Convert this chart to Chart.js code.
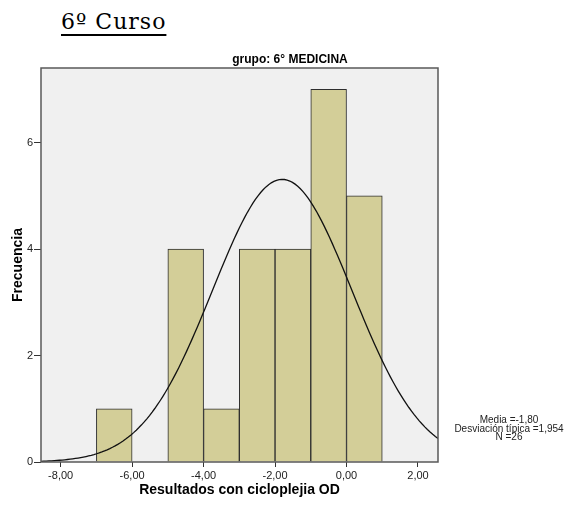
<!DOCTYPE html>
<html>
<head>
<meta charset="utf-8">
<script src="https://cdn.jsdelivr.net/npm/chart.js@4"></script>
<style>
  body { margin: 0; background: #fff; }
  #wrap { position: relative; width: 568px; height: 506px; }
  #heading {
    position: absolute; left: 61px; top: 11px; margin: 0;
    font-family: "DejaVu Serif", serif; font-weight: normal; font-size: 22px;
    line-height: 22px; letter-spacing: 1px; color: #000;
    text-decoration: underline; text-decoration-thickness: 1.5px; text-underline-offset: 5px;
  }
  canvas { position: absolute; left: 0; top: 0; }
</style>
</head>
<body>
<div id="wrap">
  <h1 id="heading">6º Curso</h1>
  <canvas id="histo" width="568" height="506"></canvas>
</div>
<script>
// Datos del histograma
const binCenters = [-6.5, -5.5, -4.5, -3.5, -2.5, -1.5, -0.5, 0.5];
const frecuencias = [1, 0, 4, 1, 4, 4, 7, 5];
const xTickValues = [-8, -6, -4, -2, 0, 2];
const xTickLabels = ['-8,00', '-6,00', '-4,00', '-2,00', '0,00', '2,00'];
const yTickValues = [0, 2, 4, 6];
const yTickLabels = ['0', '2', '4', '6'];
const statsLines = ['Media =-1,80', 'Desviación típica =1,954', 'N =26'];

// estadísticos para la curva normal ajustada
const media = -1.80;
const desv = 1.954;
const n = 26;
const anchoBin = 1;

const xMin = -8.55, xMax = 2.56;
const sans = '"Liberation Sans", Arial, sans-serif';

// curva normal (densidad escalada a frecuencias)
const curva = [];
for (let i = 0; i <= 150; i++) {
  const x = xMin + (xMax - xMin) * i / 150;
  const z = (x - media) / desv;
  curva.push({ x: x, y: n * anchoBin / (desv * Math.sqrt(2 * Math.PI)) * Math.exp(-0.5 * z * z) });
}

const barras = binCenters.map((c, i) => ({ x: c, y: frecuencias[i] }));

// fondo gris, marco y textos extra
const decoracion = {
  id: 'decoracion',
  beforeDatasetsDraw(chart) {
    const { ctx, chartArea: a } = chart;
    ctx.save();
    ctx.fillStyle = '#f0f0f0';
    ctx.fillRect(a.left, a.top, a.right - a.left, a.bottom - a.top);
    ctx.restore();
  },
  afterDatasetsDraw(chart) {
    const { ctx, chartArea: a } = chart;
    ctx.save();
    ctx.strokeStyle = '#595959';
    ctx.lineWidth = 1.5;
    ctx.strokeRect(a.left, a.top, a.right - a.left, a.bottom - a.top);

    ctx.fillStyle = '#000';
    ctx.textAlign = 'center';
    ctx.textBaseline = 'middle';
    ctx.font = 'bold 12px ' + sans;
    ctx.fillText('grupo: 6° MEDICINA', 290, 60);

    ctx.fillStyle = '#222';
    ctx.font = '10px ' + sans;
    statsLines.forEach((t, i) => ctx.fillText(t, 509, 420 + i * 8.8));
    ctx.restore();
  }
};

const ctx = document.getElementById('histo').getContext('2d');
new Chart(ctx, {
  type: 'bar',
  data: {
    datasets: [
      {
        type: 'line',
        data: curva,
        borderColor: '#111',
        borderWidth: 1.3,
        pointRadius: 0,
        tension: 0,
        order: 0
      },
      {
        type: 'bar',
        data: barras,
        backgroundColor: '#d3ce98',
        borderColor: '#2e2e2e',
        borderWidth: 1,
        barPercentage: 1,
        categoryPercentage: 1,
        order: 1
      }
    ]
  },
  options: {
    responsive: false,
    animation: false,
    devicePixelRatio: 1,
    layout: { padding: { left: 0, top: 68, right: 130, bottom: 0 } },
    plugins: { legend: { display: false }, tooltip: { enabled: false } },
    scales: {
      x: {
        type: 'linear',
        min: xMin,
        max: xMax,
        offset: false,
        afterBuildTicks: s => { s.ticks = xTickValues.map(v => ({ value: v })); },
        afterFit: s => { s.height = 44; },
        grid: { offset: false, drawOnChartArea: false, drawTicks: true, tickLength: 5, color: '#333' },
        border: { display: false },
        ticks: {
          autoSkip: false, maxRotation: 0, padding: 2, color: '#222',
          font: { family: sans, size: 11 },
          callback: v => xTickLabels[xTickValues.indexOf(v)]
        },
        title: {
          display: true, text: 'Resultados con cicloplejia OD', color: '#000',
          font: { family: sans, size: 14, weight: 'bold' },
          padding: { top: 0, bottom: 7 }
        }
      },
      y: {
        min: 0,
        max: 7.4,
        afterBuildTicks: s => { s.ticks = yTickValues.map(v => ({ value: v })); },
        afterFit: s => { s.width = 41; },
        grid: { drawOnChartArea: false, drawTicks: true, tickLength: 7, color: '#333' },
        border: { display: false },
        ticks: {
          padding: 1, color: '#222',
          font: { family: sans, size: 11 },
          callback: v => yTickLabels[yTickValues.indexOf(v)]
        },
        title: {
          display: true, text: 'Frecuencia', color: '#000',
          font: { family: sans, size: 14, weight: 'bold' },
          padding: { top: 10, bottom: 0 }
        }
      }
    }
  },
  plugins: [decoracion]
});
</script>
</body>
</html>
